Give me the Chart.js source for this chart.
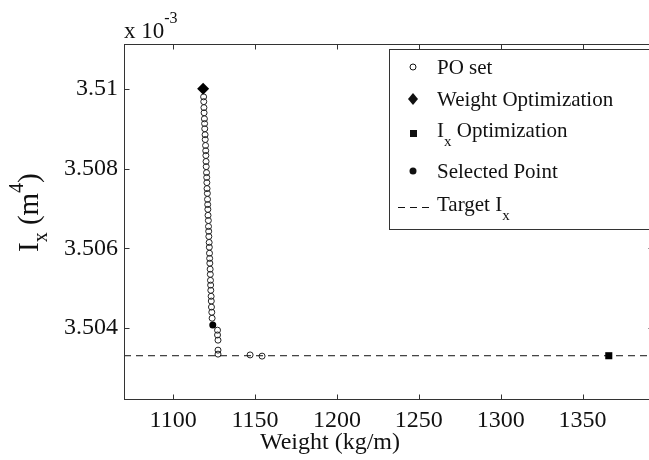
<!DOCTYPE html>
<html>
<head>
<meta charset="utf-8">
<title>PO set vs weight</title>
<script src="https://cdn.jsdelivr.net/npm/chart.js@4.4.1/dist/chart.umd.min.js"></script>
<style>
  html, body { margin: 0; padding: 0; background: #fff; overflow: hidden; }
  #wrap { width: 649px; height: 460px; overflow: hidden; }
</style>
</head>
<body>
<div id="wrap"><canvas id="chart" width="660" height="460"></canvas></div>
<script>
// values (Ix in units of 1e-3 m^4)
const poWeight = [1118.6, 1118.7, 1118.8, 1118.9, 1119.1, 1119.2, 1119.3, 1119.5, 1119.6, 1119.8,
                  1119.9, 1120.0, 1120.1, 1120.2, 1120.4, 1120.5, 1120.6, 1120.7, 1120.9, 1121.0,
                  1121.1, 1121.2, 1121.3, 1121.5, 1121.6, 1121.7, 1121.8, 1122.0, 1122.1, 1122.2,
                  1122.3, 1122.4, 1122.6, 1122.7, 1122.8, 1122.9, 1123.0, 1123.2, 1123.3, 1123.4,
                  1123.6, 1123.8, 1127.1, 1127.1, 1127.4, 1127.4, 1127.4, 1147.0, 1154.3];
const poIx = [3.50980, 3.50968, 3.50953, 3.50940, 3.50925, 3.50913, 3.50900, 3.50885, 3.50873, 3.50858,
              3.50845, 3.50833, 3.50818, 3.50805, 3.50790, 3.50778, 3.50765, 3.50750, 3.50738, 3.50723,
              3.50710, 3.50698, 3.50683, 3.50670, 3.50655, 3.50643, 3.50630, 3.50615, 3.50603, 3.50588,
              3.50575, 3.50563, 3.50548, 3.50535, 3.50520, 3.50508, 3.50495, 3.50480, 3.50468, 3.50453,
              3.50440, 3.50425, 3.50395, 3.50383, 3.50370, 3.50345, 3.50335, 3.50333, 3.50330];

const weightOptWeight = [1118.3];
const weightOptIx = [3.51000];
const ixOptWeight = [1366.0];
const ixOptIx = [3.50331];
const selectedWeight = [1124.2];
const selectedIx = [3.50408];
const targetWeight = [1070, 1393];
const targetIx = [3.50331, 3.50331];

const xTicks = [1100, 1150, 1200, 1250, 1300, 1350];
const yTicks = [3.504, 3.506, 3.508, 3.510];
const yTickLabels = ['3.504', '3.506', '3.508', '3.51'];
const xRange = [1070, 1393];
const yRange = [3.502225, 3.511125];

const SERIF = "'Liberation Serif', 'Times New Roman', serif";
const INK = '#111';

function pts(xs, ys) {
    return xs.map((x, i) => ({ x: x, y: ys[i] }));
}

// draw text pieces one after another, with sub/superscripts
function drawRich(ctx, parts, x, y) {
    let cx = x;
    parts.forEach(p => {
        ctx.font = p.size + 'px ' + SERIF;
        ctx.fillText(p.t, cx, y + (p.dy || 0));
        cx += ctx.measureText(p.t).width;
    });
}

const extrasPlugin = {
    id: 'extras',
    afterDatasetsDraw(chart) {
        const ctx = chart.ctx;
        const a = chart.chartArea;
        const xs = chart.scales.x;
        const ys = chart.scales.y;
        ctx.save();
        ctx.strokeStyle = '#333';
        ctx.lineWidth = 1;
        const L = Math.round(a.left) + 0.5, R = Math.round(a.right) + 0.5;
        const T = Math.round(a.top) + 0.5, B = Math.round(a.bottom) + 0.5;
        ctx.strokeRect(L, T, R - L, B - T);
        ctx.beginPath();
        xTicks.forEach(v => {
            const px = Math.round(xs.getPixelForValue(v)) + 0.5;
            ctx.moveTo(px, B); ctx.lineTo(px, B - 5);
            ctx.moveTo(px, T); ctx.lineTo(px, T + 5);
        });
        yTicks.forEach(v => {
            const py = Math.round(ys.getPixelForValue(v)) + 0.5;
            ctx.moveTo(L, py); ctx.lineTo(L + 5, py);
            ctx.moveTo(R, py); ctx.lineTo(R - 5, py);
        });
        ctx.stroke();
        ctx.restore();
    },
    afterDraw(chart) {
        const ctx = chart.ctx;
        ctx.save();
        ctx.fillStyle = INK;
        ctx.textBaseline = 'alphabetic';
        ctx.textAlign = 'left';

        // exponent note
        drawRich(ctx, [{ t: 'x 10', size: 23 }, { t: '-3', size: 16, dy: -15 }], 124, 38);

        // x axis title
        ctx.font = '24px ' + SERIF;
        ctx.textAlign = 'center';
        ctx.fillText('Weight (kg/m)', 330, 449);
        ctx.textAlign = 'left';

        // y axis title
        ctx.save();
        ctx.translate(38, 252);
        ctx.rotate(-Math.PI / 2);
        drawRich(ctx, [
            { t: 'I', size: 29 }, { t: 'x', size: 20, dy: 9 },
            { t: ' (m', size: 29 }, { t: '4', size: 20, dy: -15 }, { t: ')', size: 29 }
        ], 0, 0);
        ctx.restore();

        // legend box
        ctx.fillStyle = '#fff';
        ctx.fillRect(389, 49, 270, 180);
        ctx.strokeStyle = '#333';
        ctx.lineWidth = 1;
        ctx.strokeRect(389.5, 49.5, 270, 180);

        const mx = 413;
        ctx.strokeStyle = INK;
        ctx.fillStyle = INK;
        // PO set
        ctx.beginPath(); ctx.arc(mx, 67, 3, 0, Math.PI * 2); ctx.stroke();
        // weight optimization diamond
        ctx.beginPath();
        ctx.moveTo(mx, 93); ctx.lineTo(mx + 5, 99); ctx.lineTo(mx, 105); ctx.lineTo(mx - 5, 99);
        ctx.closePath(); ctx.fill();
        // Ix optimization square
        ctx.fillRect(mx - 3, 130, 7, 7);
        // selected point
        ctx.beginPath(); ctx.arc(mx, 171, 3.5, 0, Math.PI * 2); ctx.fill();
        // target line
        ctx.beginPath();
        ctx.setLineDash([7, 5]);
        ctx.moveTo(398, 207.5); ctx.lineTo(434, 207.5); ctx.stroke();
        ctx.setLineDash([]);

        const tx = 437;
        drawRich(ctx, [{ t: 'PO set', size: 21 }], tx, 74);
        drawRich(ctx, [{ t: 'Weight Optimization', size: 21 }], tx, 106);
        drawRich(ctx, [{ t: 'I', size: 21 }, { t: 'x', size: 15, dy: 9 }, { t: ' Optimization', size: 21 }], tx, 137);
        drawRich(ctx, [{ t: 'Selected Point', size: 21 }], tx, 178);
        drawRich(ctx, [{ t: 'Target I', size: 21 }, { t: 'x', size: 15, dy: 9 }], tx, 211);
        ctx.restore();
    }
};

const ctx = document.getElementById('chart').getContext('2d');
new Chart(ctx, {
    type: 'scatter',
    data: {
        datasets: [
            {
                label: 'Target Ix',
                type: 'line',
                data: pts(targetWeight, targetIx),
                borderColor: INK,
                borderWidth: 1,
                borderDash: [7, 5],
                pointRadius: 0,
                fill: false,
                order: 1
            },
            {
                label: 'PO set',
                data: pts(poWeight, poIx),
                pointStyle: 'circle',
                pointRadius: 3,
                borderWidth: 1,
                borderColor: '#222',
                backgroundColor: 'rgba(0,0,0,0)',
                order: 2
            },
            {
                label: 'Weight Optimization',
                data: pts(weightOptWeight, weightOptIx),
                pointStyle: 'rectRot',
                pointRadius: 6,
                borderWidth: 0,
                backgroundColor: '#000',
                order: 0
            },
            {
                label: 'Ix Optimization',
                data: pts(ixOptWeight, ixOptIx),
                pointStyle: 'rect',
                pointRadius: 5,
                borderWidth: 0,
                backgroundColor: '#000',
                order: 0
            },
            {
                label: 'Selected Point',
                data: pts(selectedWeight, selectedIx),
                pointStyle: 'circle',
                pointRadius: 3.5,
                borderWidth: 0,
                backgroundColor: '#000',
                order: 0
            }
        ]
    },
    options: {
        responsive: false,
        animation: false,
        layout: { padding: { top: 44, right: 7, left: 0, bottom: 0 } },
        plugins: {
            legend: { display: false },
            tooltip: { enabled: false }
        },
        scales: {
            x: {
                type: 'linear',
                min: xRange[0],
                max: xRange[1],
                afterBuildTicks: s => { s.ticks = xTicks.map(v => ({ value: v })); },
                afterFit: s => { s.height = 61; },
                grid: { display: false, drawTicks: false },
                border: { display: false },
                ticks: {
                    padding: 7,
                    color: INK,
                    font: { family: SERIF, size: 24 },
                    maxRotation: 0,
                    callback: v => String(v)
                }
            },
            y: {
                type: 'linear',
                min: yRange[0],
                max: yRange[1],
                afterBuildTicks: s => { s.ticks = yTicks.map(v => ({ value: v })); },
                afterFit: s => { s.width = 124; },
                grid: { display: false, drawTicks: false },
                border: { display: false },
                ticks: {
                    padding: 6,
                    color: INK,
                    font: { family: SERIF, size: 24 },
                    callback: (v, i) => yTickLabels[i]
                }
            }
        }
    },
    plugins: [extrasPlugin]
});
</script>
</body>
</html>
